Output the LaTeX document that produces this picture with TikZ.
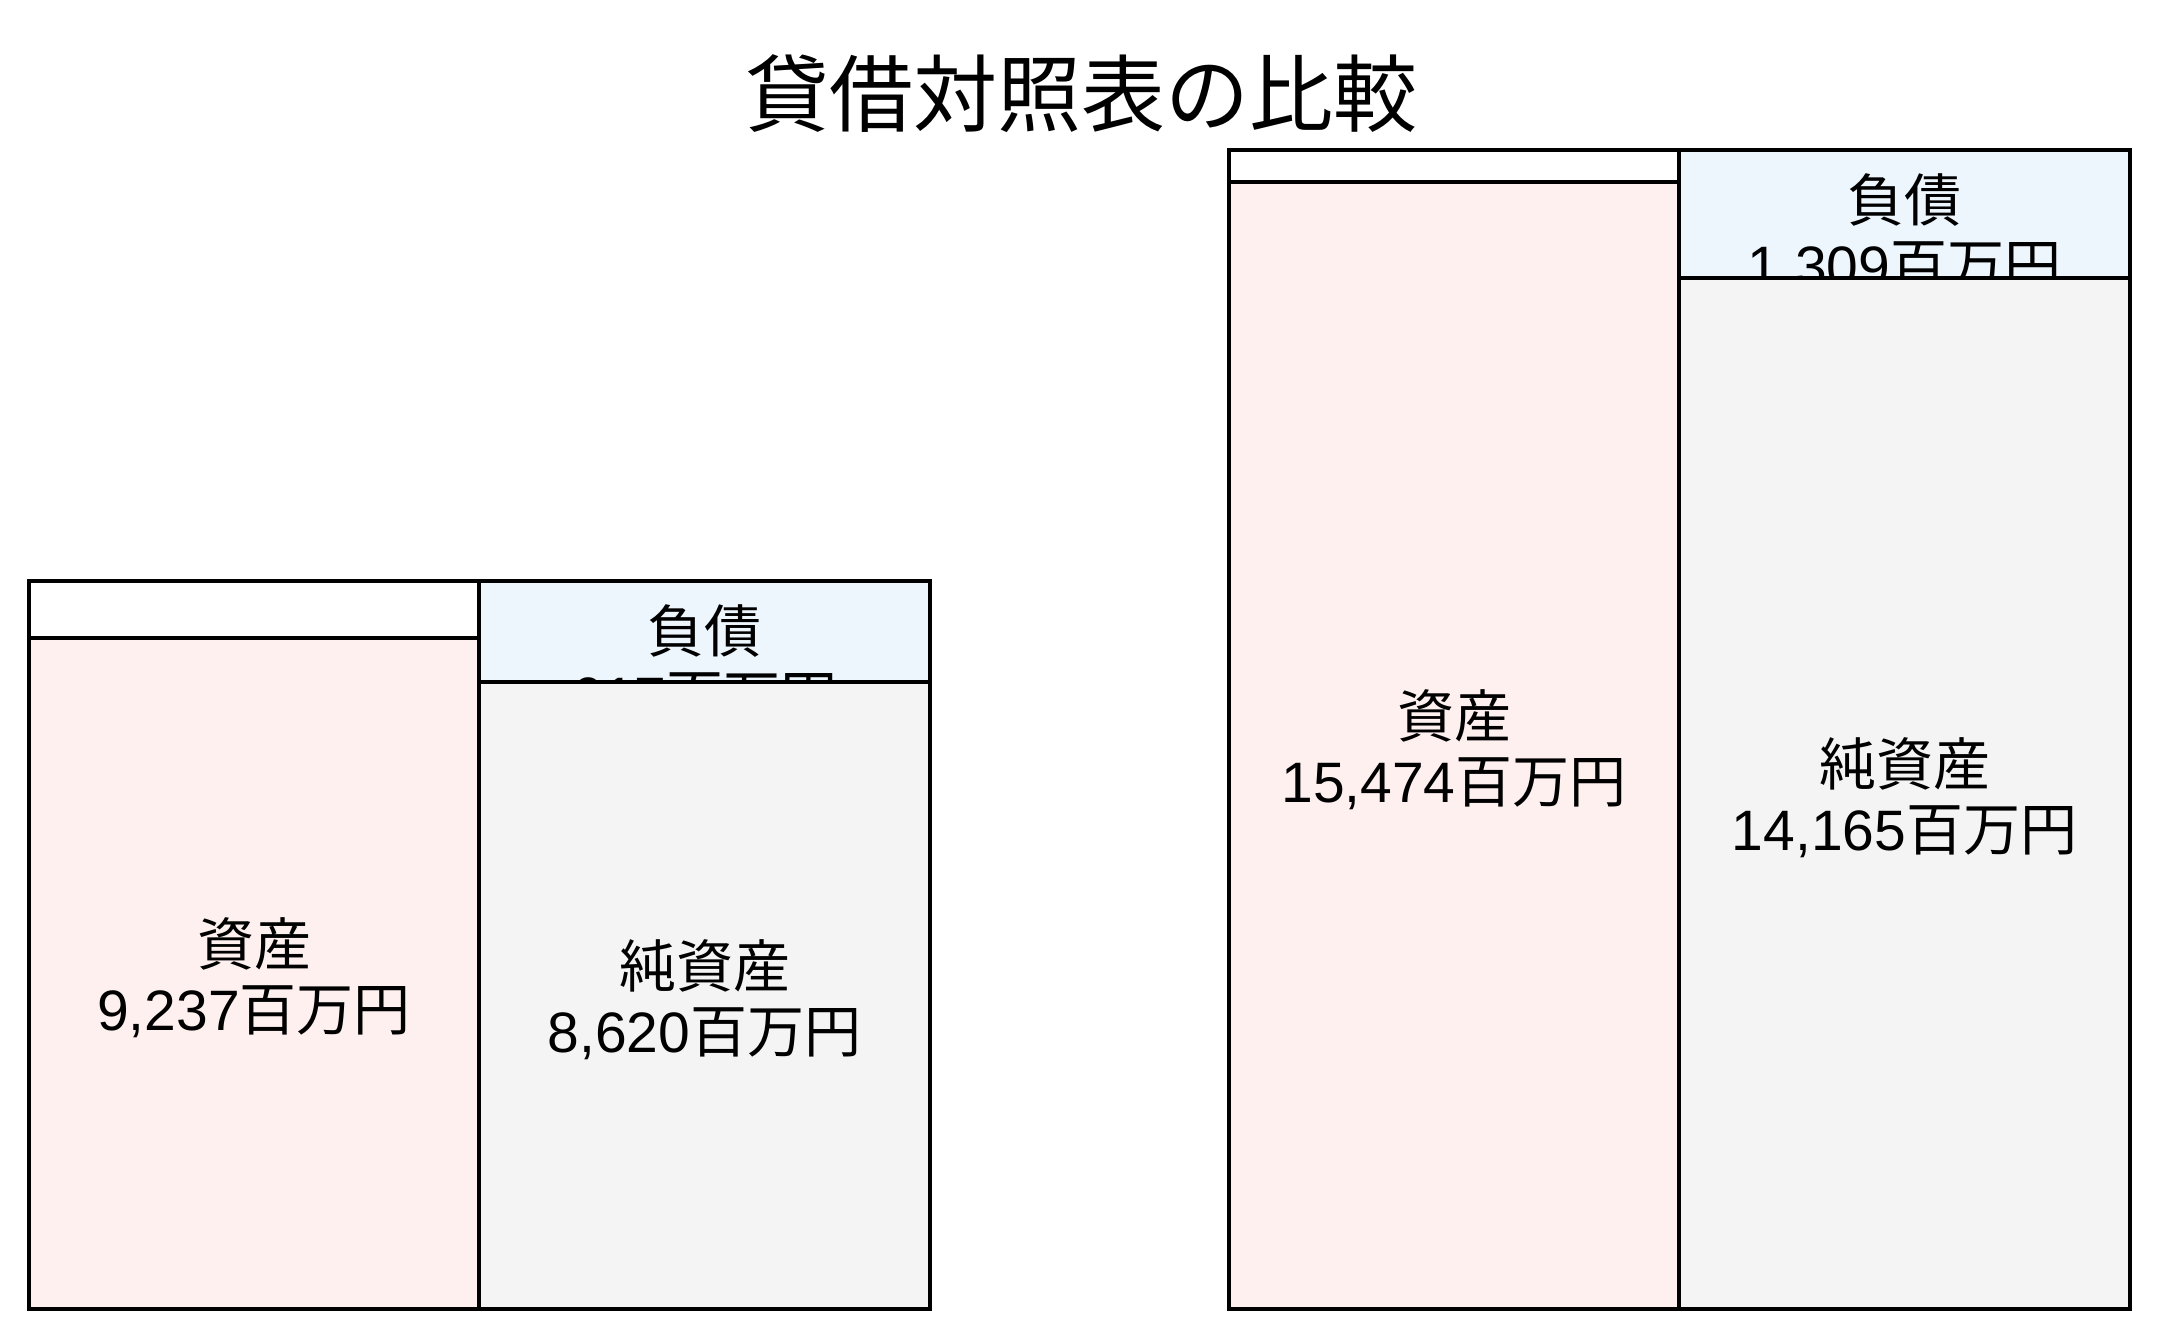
\documentclass[tikz,border=0pt]{standalone}
\usepackage{fontspec}
\setmainfont{Noto Sans CJK JP}
\newfontfamily\lat{Liberation Sans}
\definecolor{assetc}{RGB}{253,240,239}
\definecolor{liabc}{RGB}{238,246,253}
\definecolor{netc}{RGB}{244,244,244}
\begin{document}
\begin{tikzpicture}[x=1pt,y=-1pt,
  box/.style={draw=black, line width=3.5pt, inner sep=0pt, outer sep=0pt, anchor=north west},
  lbl/.style={font=\fontsize{57}{65}\selectfont, align=center, text=black, inner sep=0pt, yshift=-4pt},
  ttl/.style={font=\fontsize{84}{90}\selectfont, text=black, inner sep=0pt}]
\useasboundingbox[fill=white] (0,0) rectangle (2160,1341);
\node[ttl] (title) at (1081,94) {貸借対照表の比較};
% left chart
\node[box, fill=white, minimum width=450pt, minimum height=57pt] (ls) at (29,581) {};
\node[box, fill=assetc, minimum width=450pt, minimum height=671pt] (la) at (29,638) {};
\node[lbl] (lat) at (la.center) {資産\\{\lat 9,237}百万円};
\node[box, fill=liabc, minimum width=451pt, minimum height=101pt] (ll) at (479,581) {};
\node[lbl] (llt) at (704.5,659) {負債\\{\lat 617}百万円};
\node[box, fill=netc, minimum width=451pt, minimum height=627pt] (ln) at (479,682) {};
\node[lbl] (lnt) at (ln.center) {純資産\\{\lat 8,620}百万円};
% right chart
\node[box, fill=white, minimum width=450pt, minimum height=32pt] (rs) at (1229,150) {};
\node[box, fill=assetc, minimum width=450pt, minimum height=1127pt] (ra) at (1229,182) {};
\node[lbl] (rat) at (ra.center) {資産\\{\lat 15,474}百万円};
\node[box, fill=liabc, minimum width=451pt, minimum height=128pt] (rl) at (1679,150) {};
\node[lbl] (rlt) at (1904.5,229.5) {負債\\{\lat 1,309}百万円};
\node[box, fill=netc, minimum width=451pt, minimum height=1031pt] (rn) at (1679,278) {};
\node[lbl] (rnt) at (rn.center) {純資産\\{\lat 14,165}百万円};
\end{tikzpicture}
\end{document}
